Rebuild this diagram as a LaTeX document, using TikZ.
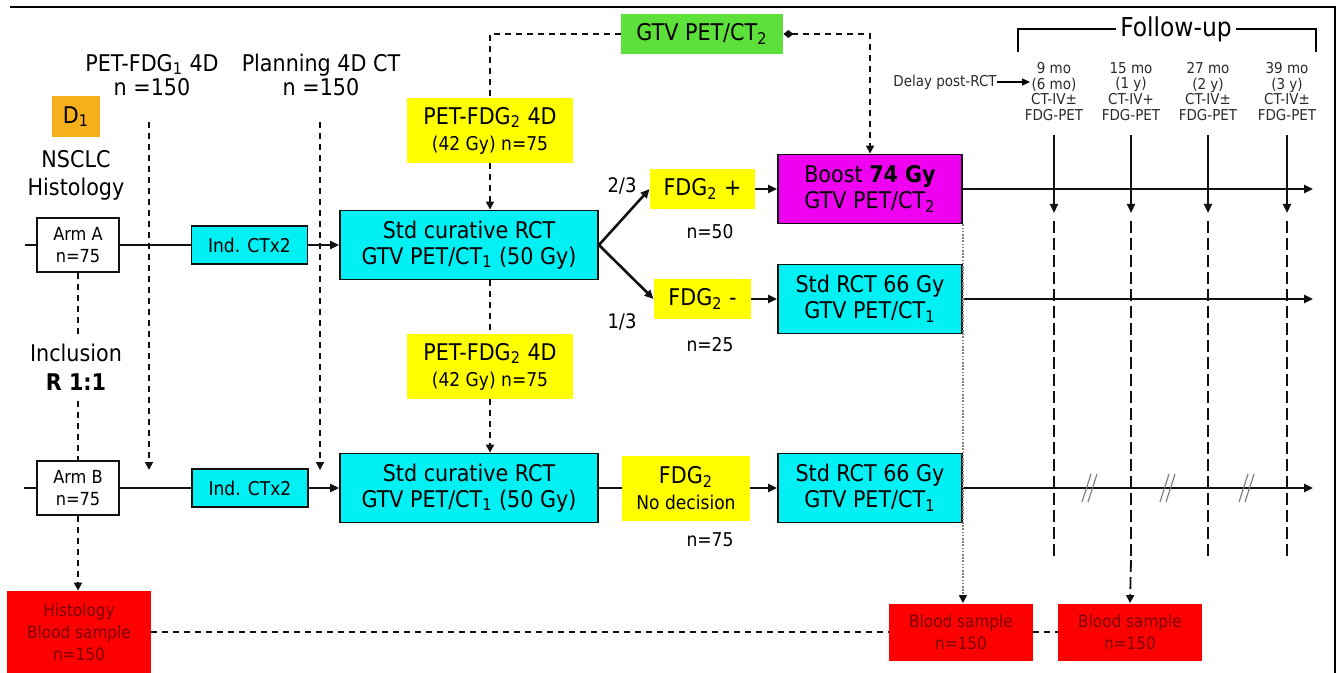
\documentclass[tikz,border=0pt]{standalone}
\usepackage{fontspec}
\setmainfont{DejaVu Sans Condensed}
\usepackage{tikz}
\usetikzlibrary{arrows.meta,positioning,calc}
\definecolor{ink}{HTML}{111111}
\definecolor{rctcyan}{HTML}{00F0F4}
\definecolor{petyel}{HTML}{FFFF00}
\definecolor{boostmag}{HTML}{F000F0}
\definecolor{gtvgreen}{HTML}{5EE03A}
\definecolor{samplered}{HTML}{FF0000}
\definecolor{sampleink}{HTML}{7A0000}
\definecolor{dorange}{HTML}{F5B01C}
\definecolor{fugray}{HTML}{2A2A2A}
\newcommand{\fs}[2]{\fontsize{#1}{#2}\selectfont}
\tikzset{
  armbox/.style={draw=ink,fill=white,line width=1.4pt,
                 minimum width=41pt,minimum height=27pt,
                 inner sep=0pt,align=center,font=\fs{9pt}{11pt}},
  indbox/.style={draw=ink,fill=rctcyan,line width=0.9pt,
                 minimum width=58pt,minimum height=19pt,
                 inner sep=0pt,align=center,font=\fs{9.5pt}{11pt}},
  rctbox/.style={draw=ink,fill=rctcyan,line width=0.9pt,
                 minimum width=129pt,minimum height=34.5pt,
                 inner sep=0pt,align=center,font=\fs{11.5pt}{13pt}},
  cyanbox/.style={rctbox,minimum width=92pt},
  boostbox/.style={rctbox,fill=boostmag,minimum width=92pt},
  petbox/.style={fill=petyel,minimum width=83pt,minimum height=32.5pt,
                 inner sep=0pt,align=center,font=\fs{11.5pt}{13pt}},
  yelbox/.style={fill=petyel,minimum height=20pt,
                 inner sep=0pt,align=center,font=\fs{11.5pt}{13pt}},
  gtvbox/.style={fill=gtvgreen,minimum width=81pt,minimum height=20pt,
                 inner sep=0pt,font=\fs{11.5pt}{13pt}},
  dbox/.style={fill=dorange,minimum width=24pt,minimum height=20.5pt,
               inner sep=0pt,font=\fs{11.5pt}{13pt}},
  redbox/.style={fill=samplered,text=sampleink,minimum width=72pt,
                 minimum height=28.5pt,inner sep=0pt,align=center,
                 font=\fs{8.5pt}{11pt}},
  lab/.style={align=center,inner sep=1pt,font=\fs{11.5pt}{12pt}},
  smlab/.style={inner sep=1pt,font=\fs{10pt}{11pt}},
  nlab/.style={inner sep=1pt,font=\fs{9.5pt}{11pt}},
  fulab/.style={align=center,inner sep=0pt,text=fugray,font=\fs{7.5pt}{7.9pt}},
  fuhead/.style={inner xsep=2pt,inner ysep=0pt,font=\fs{13pt}{14pt}},
  mainline/.style={line width=1.3pt,color=ink},
  mainarr/.style={mainline,-{Triangle[length=4.5pt,width=4pt]}},
  thinarr/.style={line width=0.6pt,-{Triangle[length=4pt,width=3.5pt]}},
  dashline/.style={line width=0.9pt,color=ink,dash pattern=on 3pt off 2.5pt},
  dasharr/.style={dashline,-{Triangle[length=4pt,width=4pt]}},
  fudash/.style={line width=0.9pt,color=ink,dash pattern=on 6pt off 2.5pt},
  dotarr/.style={line width=0.6pt,color=gray,dash pattern=on 0.8pt off 0.8pt,
                 -{Triangle[length=4pt,width=4pt,color=ink]}}
}

\begin{document}
\begin{tikzpicture}[x=0.5pt,y=-0.5pt]
  \useasboundingbox (0,0) rectangle (1337,673);
  % frame
  \draw[line width=1.2pt] (10,7) -- (1335,7) -- (1335,673);

  % left column
  \node[lab] (pet1) at (152,75) {PET-FDG\textsubscript{1} 4D\\n =150};
  \node[lab] (plan) at (321,75) {Planning 4D CT\\n =150};
  \node[dbox] (d1) at (76,116.5) {D\textsubscript{1}};
  \node[lab,font=\fs{11.5pt}{14pt}] (nsclc) at (76,175) {NSCLC\\Histology};
  \node[armbox] (armA) at (78,245) {Arm A\\n=75};
  \node[lab,inner ysep=5pt,font=\fs{11.5pt}{14.5pt}] (incl) at (76,367.5) {Inclusion\\\textbf{R 1:1}};
  \node[armbox] (armB) at (78,488) {Arm B\\n=75};

  % treatment boxes
  \node[indbox] (indA) at (249.5,245) {Ind. CTx2};
  \node[indbox] (indB) at (250,488) {Ind. CTx2};
  \node[rctbox] (rctA) at (469,245) {Std curative RCT\\GTV PET/CT\textsubscript{1} (50 Gy)};
  \node[rctbox] (rctB) at (469,488) {Std curative RCT\\GTV PET/CT\textsubscript{1} (50 Gy)};
  \node[petbox] (petA) at (490,130.5) {PET-FDG\textsubscript{2} 4D\\{\fs{9.5pt}{11pt}(42 Gy) n=75}};
  \node[petbox] (petB) at (490,366.5) {PET-FDG\textsubscript{2} 4D\\{\fs{9.5pt}{11pt}(42 Gy) n=75}};
  \node[gtvbox] (gtv) at (702,34) {GTV PET/CT\textsubscript{2}};

  % FDG2 response
  \node[yelbox,minimum width=52.5pt] (fdgP) at (702.5,189) {FDG\textsubscript{2} +};
  \node[yelbox,minimum width=48.5pt] (fdgM) at (702.5,299) {FDG\textsubscript{2} -};
  \node[yelbox,minimum width=64pt,minimum height=32.5pt] (fdgN) at (686,488)
    {FDG\textsubscript{2}\\{\fs{9.5pt}{11pt}No decision}};
  \node[smlab] (p23) at (622,186) {2/3};
  \node[smlab] (p13) at (622,322) {1/3};
  \node[nlab] (n50) at (710,232) {n=50};
  \node[nlab] (n25) at (710,345) {n=25};
  \node[nlab] (n75) at (710,540) {n=75};
  \node[boostbox] (boost) at (870,189) {Boost \textbf{74 Gy}\\GTV PET/CT\textsubscript{2}};
  \node[cyanbox] (stdA) at (870,299) {Std RCT 66 Gy\\GTV PET/CT\textsubscript{1}};
  \node[cyanbox] (stdB) at (870,488) {Std RCT 66 Gy\\GTV PET/CT\textsubscript{1}};

  % samples
  \node[redbox,minimum height=41pt] (hist) at (79,632) {Histology\\Blood sample\\n=150};
  \node[redbox] (blood1) at (961,632) {Blood sample\\n=150};
  \node[redbox] (blood2) at (1130,632) {Blood sample\\n=150};

  % arm rows
  \coordinate (startA) at (25,245);
  \coordinate (startB) at (24,488);
  \coordinate (endA) at (1313,189);
  \coordinate (endM) at (1313,299);
  \coordinate (endB) at (1313,488);
  \draw[mainline] (startA) -- (armA.west);
  \draw[mainline] (armA.east) -- (indA.west);
  \draw[mainarr] (indA.east) -- (rctA.west);
  \draw[mainarr] (rctA.east) -- (fdgP.west);
  \draw[mainarr] (rctA.east) -- (fdgM.west);
  \draw[mainarr] (fdgP.east) -- (boost.west);
  \draw[mainarr] (fdgM.east) -- (stdA.west);
  \draw[mainarr] (boost.east) -- (endA);
  \draw[mainarr] (stdA.east) -- (endM);
  \draw[mainline] (startB) -- (armB.west);
  \draw[mainline] (armB.east) -- (indB.west);
  \draw[mainarr] (indB.east) -- (rctB.west);
  \draw[mainline] (rctB.east) -- (fdgN.west);
  \draw[mainarr] (fdgN.east) -- (stdB.west);
  \draw[mainarr] (stdB.east) -- (endB);

  % randomisation and imaging
  \draw[dashline] (armA.south) -- (armA.south |- incl.north);
  \draw[dashline] (armB.north |- incl.south) -- (armB.north);
  \draw[dasharr] (armB.south) -- (armB.south |- hist.north);
  \coordinate (p1bot) at (149,470);
  \coordinate (p2bot) at (320,470);
  \draw[dasharr,shorten <=12pt] (p1bot |- pet1.south) -- (p1bot);
  \draw[dasharr,shorten <=12pt] (p2bot |- plan.south) -- (p2bot);
  \draw[dashline] (gtv.west) -| (petA.north);
  \draw[dasharr] (petA.south) -- (petA.south |- rctA.north);
  \draw[dashline] (petA.south |- rctA.south) -- (petB.north);
  \draw[dasharr] (petB.south) -- (petB.south |- rctB.north);
  \draw[dashline,{Diamond[length=5pt,width=4pt]}-{Triangle[length=4pt,width=4pt]}]
    (gtv.east) -| (boost.north);
  \draw[dotarr] (boost.south east) -- (boost.south east |- blood1.north);
  \draw[dashline] (hist.east) -- (blood1.west);
  \draw[dashline] (blood1.east) -- (blood2.west);

  % follow-up
  \node[fuhead,fill=white] (fuh) at (1176,29) {Follow-up};
  \coordinate (brL) at (1018,52);
  \coordinate (brR) at (1316,52);
  \draw[line width=0.9pt] (brL) |- (fuh.west);
  \draw[line width=0.9pt] (fuh.east) -| (brR);
  \node[fulab] (delay) at (945,82) {Delay post-RCT};
  \coordinate (delayEnd) at (1030,82);
  \draw[thinarr] (delay.east) -- (delayEnd);
  \foreach \x/\i/\m/\t/\s in {1054/1/9 mo/6 mo/±, 1131/2/15 mo/1 y/+,
                               1208/3/27 mo/2 y/±, 1287/4/39 mo/3 y/±} {
    \node[fulab] (fu\i) at (\x,91.5) {\m\\(\t)\\CT-IV\s\\FDG-PET};
    \coordinate (fa\i) at (\x,213);
    \coordinate (fb\i) at (\x,560);
    \draw[mainarr,line width=1pt,shorten <=7pt] (fu\i.south) -- (fa\i);
    \draw[fudash] ([yshift=-4pt]fa\i) -- (fb\i);
  }
  \draw[fudash,-{Triangle[length=4pt,width=4pt]}] (fb2) -- (blood2.north);
  % breaks on arm B
  \foreach \x in {1090,1168,1247} {
    \draw[gray,line width=0.6pt] (\x-8,502) -- (\x+1,474);
    \draw[gray,line width=0.6pt] (\x-2,502) -- (\x+7,474);
  }
\end{tikzpicture}
\end{document}
